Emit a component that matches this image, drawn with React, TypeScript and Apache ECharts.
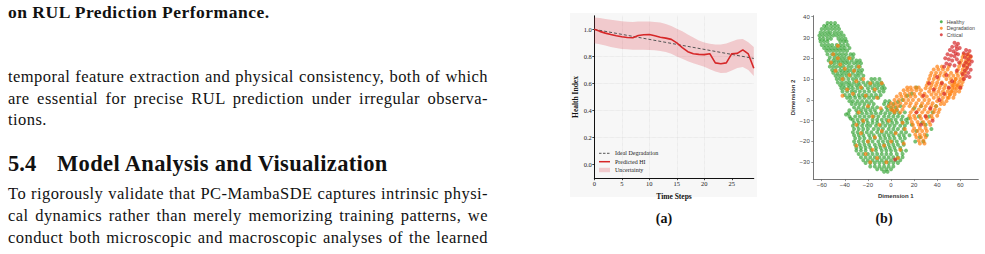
import React, { useEffect, useRef } from "react";
import * as echarts from "echarts";

// ---------- (a) Health index data ----------
const timeSteps = [0, 1, 2, 3, 4, 5, 6, 7, 8, 9, 10, 11, 12, 13, 14, 15, 16, 17, 18, 19, 20, 21, 22, 23, 24, 25, 26, 27, 28, 29];
const predictedHI = [1.0, 0.985, 0.972, 0.962, 0.953, 0.945, 0.94, 0.938, 0.955, 0.96, 0.962, 0.952, 0.942, 0.935, 0.926, 0.9, 0.865, 0.835, 0.82, 0.815, 0.813, 0.82, 0.752, 0.746, 0.752, 0.82, 0.822, 0.848, 0.818, 0.712];
const upperBound = [1.088, 1.083, 1.077, 1.071, 1.065, 1.06, 1.056, 1.055, 1.057, 1.058, 1.058, 1.055, 1.05, 1.04, 1.025, 1.005, 0.985, 0.962, 0.94, 0.918, 0.902, 0.893, 0.888, 0.888, 0.895, 0.91, 0.925, 0.928, 0.905, 0.87];
const lowerBound = [0.898, 0.89, 0.88, 0.87, 0.862, 0.855, 0.852, 0.85, 0.85, 0.85, 0.848, 0.845, 0.84, 0.832, 0.82, 0.8, 0.783, 0.765, 0.75, 0.737, 0.723, 0.705, 0.688, 0.678, 0.68, 0.695, 0.715, 0.722, 0.7, 0.655];
const idealX = [0, 29];
const idealY = [1.0, 0.785];
const hiTicksX = [0, 5, 10, 15, 20, 25];
const hiTicksY = [0, 0.2, 0.4, 0.6, 0.8, 1.0];

// ---------- (b) t-SNE data ----------
const dimTicksX = [-60, -40, -20, 0, 20, 40, 60];
const dimTicksY = [-30, -20, -10, 0, 10, 20, 30, 40];

const healthyRows: [number, number[]][] = [
  [37.0, [-55, -52, -48.5]],
  [35.6, [-58, -55.5, -52, -49, -46]],
  [34.1, [-60, -57, -54, -51, -48, -45]],
  [32.4, [-61, -58, -55, -52.5, -49, -46, -43]],
  [31.0, [-62, -59, -56, -53, -50, -47, -44, -41]],
  [29.4, [-61.5, -58.5, -55, -52, -45.5, -42.5, -39.5]],
  [28.1, [-61, -58, -55, -44, -41, -38.5]],
  [26.4, [-60, -57, -54, -51, -47, -44, -41, -37.5]],
  [25.0, [-58, -55, -52, -49, -46, -43, -40, -36]],
  [23.6, [-56, -53, -50, -47, -44, -41, -38]],
  [22.0, [-55, -51, -48, -45, -42, -39, -35, -32.5]],
  [20.4, [-53, -49, -46, -43, -40, -36.5, -33]],
  [19.0, [-54, -50, -47, -44, -41, -38, -34, -30, -27]],
  [17.6, [-52, -49, -45.5, -42, -39, -36, -32, -29, -26]],
  [16.0, [-53, -50, -47, -44, -41, -37, -34, -30, -27]],
  [14.4, [-51, -48, -44, -41, -38, -35, -31.5, -28, -25]],
  [13.0, [-50, -46.5, -43, -40, -37, -33, -29, -26]],
  [11.6, [-48, -45, -42, -38.5, -35, -31, -28, -24]],
  [10.0, [-47, -44, -41, -37, -33, -30, -26, -17, -14, -10]],
  [8.4, [-46, -42.5, -39, -36, -32, -28, -24, -20, -16, -12, -8.5]],
  [7.0, [-44, -41, -37, -34, -30, -27, -22, -18, -14, -10.5, -7]],
  [5.6, [-43, -40, -36.5, -33, -29, -25, -20, -16, -12, -8, -5.5]],
  [4.0, [-42, -38, -34, -31, -27, -23, -19, -14.5, -10, -6.5]],
  [2.4, [-40, -36, -32, -28, -24.5, -21, -17, -13, -9]],
  [1.0, [-38, -35, -31, -27, -23, -19, -15, -11]],
  [-0.6, [-36, -33, -29, -25, -21, -17, -5, -1.5]],
  [-2.0, [-34, -30.5, -27, -23, -19, -15, -6, -2, 2]],
  [-3.6, [-32, -28, -24, -20, -16, -12, -4, 0, 4]],
  [-5.0, [-36, -30, -26, -22, -18, -14, -8, -3, 1, 5]],
  [-6.4, [-37, -29, -25, -21, -17, -13, -9, -5, -1, 3, 7]],
  [-8.0, [-36, -31, -27, -23, -19, -15, -11, -6, -2, 2, 6, 10]],
  [-9.6, [-33, -29, -25, -21, -16, -12, -8, -4, 0, 4, 9, 13]],
  [-11.0, [-32, -28, -24, -20, -16, -12, -7, -3, 1, 5, 10, 14]],
  [-12.4, [-33, -29, -25, -21, -18, -13, -9, -5, -1, 3, 8, 12]],
  [-14.0, [-32, -28, -24, -20, -15, -11, -7, -2, 2, 6, 11]],
  [-15.6, [-33, -29, -25, -21, -17, -12, -8, -4, 0, 4, 9, 13]],
  [-17.0, [-32, -28, -24, -19, -15, -10, -6, -2, 2, 7, 11]],
  [-18.4, [-31, -27, -23, -18, -14, -9, -5, -1, 3, 8, 12]],
  [-20.0, [-32, -28, -24, -20, -16, -11, -7, -3, 1, 5, 10]],
  [-21.6, [-31, -27, -23, -19, -14, -10, -6, -2, 2, 6, 11]],
  [-23.0, [-30, -26, -22, -18, -13, -9, -5, -1, 3, 8]],
  [-24.4, [-30, -26, -22, -17, -13, -8, -4, 0, 4, 9, 13]],
  [-26.0, [-28, -24, -20, -16, -12, -8, -4, 0, 5, 10]],
  [-27.6, [-26, -22, -18, -14, -10, -6, -2, 2, 6, 10]],
  [-29.0, [-24, -20, -16, -12, -8, -4, 0, 4, 8]],
  [-30.4, [-22, -18, -14, -10, -6, -2, 2, 6]],
  [-32.0, [-18, -14, -10, -6, -2, 2]],
  [-33.4, [-12, -8, -4, 0]],
  [-34.6, [-6, -3]],
];
const healthyExtra: [number, number][] = [
  [8, -3], [12, -6], [15, -9], [18, -12], [22, -15], [25, -18], [28, -20], [20, -4], [24, -8], [10, 0],
  [14, 2], [26, -3], [30, -12], [33, -8], [35, -14], [18, 3], [22, 6], [27, -11], [16, -17], [31, -17],
  [21, -20], [36, -6], [-39, -7], [-35, -9], [6, -1], [39, -3],
];

const degradationRows: [number, number[]][] = [
  [6.0, [14, 17, 21, 24]],
  [4.6, [11, 14.5, 18, 22, 26]],
  [3.0, [8, 12, 16, 20, 25, 29]],
  [1.6, [5, 9, 13, 17, 21, 27, 31]],
  [0.0, [3, 7, 11, 15, 19, 24, 29, 33]],
  [-1.6, [0, 4, 8, 13, 17, 22, 27, 32, 36]],
  [-3.0, [-2, 2, 6, 11, 16, 21, 26, 30, 35, 39]],
  [-4.6, [0, 5, 10, 19, 24, 29, 34, 38, 42]],
  [-6.0, [3, 8, 17, 22, 27, 32, 37, 41]],
  [-7.6, [16, 20, 25, 30, 35, 40]],
  [-9.0, [17, 21, 26, 31, 36]],
  [-10.6, [18, 23, 28, 33]],
  [-12.0, [19, 24, 29, 34]],
  [-13.6, [20, 25, 30]],
  [-15.0, [19, 23, 27, 31]],
  [-16.6, [21, 25, 29]],
  [-18.0, [22, 26, 30]],
  [-19.6, [24, 28]],
  [-21.0, [25, 29]],
  [16.0, [40, 44, 50]],
  [14.6, [37, 41, 45, 49]],
  [13.0, [35, 39, 43, 47, 52]],
  [11.6, [34, 38, 42, 46, 50, 54]],
  [10.0, [33, 37, 41, 48, 52, 56]],
  [8.4, [32, 36, 40, 44, 51, 55]],
  [7.0, [31, 35, 39, 43, 47, 53, 57]],
  [5.6, [30, 34, 38, 42, 46, 50, 55]],
  [4.0, [33, 37, 41, 45, 49, 53]],
  [2.6, [35, 39, 43, 47, 51]],
  [1.0, [37, 41, 45, 49]],
  [-0.6, [40, 44, 48]],
  [-2.0, [43, 46]],
  [22.0, [63, 67]],
  [20.6, [62, 66, 69]],
  [19.0, [61, 65, 68]],
  [17.6, [60, 64, 67]],
  [16.2, [59, 63, 66]],
  [14.6, [58, 62, 65]],
  [13.0, [57, 61, 64]],
  [11.6, [58, 62]],
  [10.0, [56, 60, 63]],
  [8.6, [55, 59, 62]],
  [7.0, [54, 58, 61]],
  [5.6, [53, 57, 60]],
  [4.0, [52, 56, 59]],
  [2.6, [51, 55]],
  [1.0, [50, 54]],
];
const degradationExtra: [number, number][] = [
  [-50, 22], [-46, 20], [-44, 17], [-48, 14], [-40, 15], [-36, 12], [-42, 10], [-30, 9], [-38, 5], [-33, 3],
  [-26, 6], [-22, 2], [-18, 8], [-14, 5], [-12, 1], [-20, -3], [-28, -6], [-24, -10], [-16, -8], [-10, -12],
  [-26, -16], [-20, -20], [-14, -18], [-6, -22], [-22, -26], [-12, -28], [-4, -30], [0, -20], [4, -16], [8, -24],
  [11, -21], [6, -28], [-8, -15], [-30, -22], [-2, -10], [2, -5], [-36, 20], [-46, 26], [-32, 14], [-42, 2],
  [-18, -30], [-9, -4], [10, -11], [-30, -12], [-52, 18], [-28, 16], [-24, 10], [-8, 8], [12, -14], [-16, -24],
];

const criticalPoints: [number, number][] = [
  [55, 27.5], [58, 27], [56.5, 25.8], [53, 25.5], [57, 24.4], [59.5, 25], [51, 24], [54, 23.4], [56, 22.4], [49, 22],
  [52, 21.4], [55, 21], [58, 22], [47, 20], [50, 19.5], [53, 19], [57, 19.5], [48, 17.5], [51, 17], [55, 16.5],
  [59, 18], [46, 16],
  [65, 24], [68, 23.5], [63, 22.5], [66, 22], [69, 21], [64, 20.5], [67, 19.5], [70, 18.5], [65, 18], [68, 17],
  [63, 16.5], [66, 15.5], [69, 14.5], [64, 14], [67, 13], [62, 12.5], [65, 11.5], [68, 11], [63, 10],
  [40, 11], [44, 8], [37, 5], [46, 3], [42, 0], [50, 6], [34, -4], [30, -8], [26, -12], [22, -6],
  [36, -10], [48, 12], [53, 9], [57, 14], [60, 6], [28, 2], [3.5, -28.7], [33, 8],
];

// ---------- page text ----------
type Line = { text: string; base: number; size: number; bold?: boolean; justify?: boolean; left?: number; spacing?: number };
const pageLines: Line[] = [
  { text: "on RUL Prediction Performance.", base: 18.3, size: 17.5, bold: true, spacing: 0.5 },
  { text: "temporal feature extraction and physical consistency, both of which", base: 82.7, size: 16.5, justify: true, spacing: 0.45 },
  { text: "are essential for precise RUL prediction under irregular observa-", base: 104.4, size: 16.5, justify: true, spacing: 0.45 },
  { text: "tions.", base: 126.1, size: 16.5, spacing: 0.45 },
  { text: "5.4", base: 172.3, size: 22.5, bold: true },
  { text: "Model Analysis and Visualization", base: 172.3, size: 22.5, bold: true, left: 57, spacing: 0.35 },
  { text: "To rigorously validate that PC-MambaSDE captures intrinsic physi-", base: 200.0, size: 16.5, justify: true, spacing: 0.45 },
  { text: "cal dynamics rather than merely memorizing training patterns, we", base: 221.7, size: 16.5, justify: true, spacing: 0.45 },
  { text: "conduct both microscopic and macroscopic analyses of the learned", base: 243.4, size: 16.5, justify: true, spacing: 0.45 },
];

const flatten = (rows: [number, number[]][], extra: [number, number][]) => {
  const out: [number, number][] = [];
  rows.forEach(([y, xs]) => xs.forEach((x) => out.push([x, y])));
  extra.forEach((p) => out.push(p));
  return out;
};

const minusFmt = (v: number) => (v < 0 ? "\u2212" + Math.abs(v) : String(v));

export default function App() {
  const ref = useRef<HTMLDivElement>(null);
  useEffect(() => {
    if (!ref.current) return;
    const chart = echarts.init(ref.current, null, { renderer: "svg", width: 985, height: 254 });
    const serif = "Liberation Serif";
    const sans = "Liberation Sans";
    const bandData = timeSteps.map((t, i) => [t, lowerBound[i], upperBound[i]]);
    const pred = timeSteps.map((t, i) => [t, predictedHI[i]]);
    const ideal = idealX.map((x, i) => [x, idealY[i]]);
    const bandColor = "rgba(220,60,70,0.24)";

    const option: any = {
      animation: false,
      grid: [
        { left: 594.3, top: 15.8, width: 159.5, height: 162.4 },
        { left: 813.3, top: 15.7, width: 165, height: 163.4 },
      ],
      xAxis: [
        {
          gridIndex: 0, type: "value", min: 0, max: 29, interval: 5,
          name: "Time Steps", nameLocation: "middle", nameGap: 8,
          nameTextStyle: { fontFamily: serif, fontWeight: "bold", fontSize: 7.5, color: "#111" },
          axisLine: { onZero: false, lineStyle: { color: "#111", width: 1 } },
          axisTick: { show: true, length: 2, customValues: hiTicksX, lineStyle: { color: "#111", width: 0.8 } },
          axisLabel: { customValues: hiTicksX, fontFamily: serif, fontSize: 6.5, color: "#222", margin: 2 },
          splitLine: { show: true, showMinLine: false, showMaxLine: false, lineStyle: { color: "#d8d8d8", type: "dotted", width: 0.6 } },
        },
        {
          gridIndex: 1, type: "value", min: -67.3, max: 75.6,
          name: "Dimension 1", nameLocation: "middle", nameGap: 8,
          nameTextStyle: { fontFamily: sans, fontWeight: "bold", fontSize: 6, color: "#333" },
          axisLine: { onZero: false, lineStyle: { color: "#666", width: 0.9 } },
          axisTick: { show: true, length: 2, customValues: dimTicksX, lineStyle: { color: "#666", width: 0.7 } },
          axisLabel: { customValues: dimTicksX, formatter: minusFmt, fontFamily: sans, fontSize: 6, color: "#444", margin: 3 },
          splitLine: { show: false },
        },
      ],
      yAxis: [
        {
          gridIndex: 0, type: "value", min: -0.1, max: 1.1,
          name: "Health Index", nameLocation: "middle", nameGap: 10,
          nameTextStyle: { fontFamily: serif, fontWeight: "bold", fontSize: 7.5, color: "#111" },
          axisLine: { show: true, onZero: false, lineStyle: { color: "#111", width: 1 } },
          axisTick: { show: true, length: 2, customValues: hiTicksY, lineStyle: { color: "#111", width: 0.8 } },
          axisLabel: { customValues: hiTicksY, formatter: (v: number) => v.toFixed(1), fontFamily: serif, fontSize: 6.5, color: "#222", margin: 2.5 },
          splitLine: { show: true, showMinLine: false, showMaxLine: false, lineStyle: { color: "#d8d8d8", type: "dotted", width: 0.6 } },
        },
        {
          gridIndex: 1, type: "value", min: -38.1, max: 40.5,
          name: "Dimension 2", nameLocation: "middle", nameGap: 14,
          nameTextStyle: { fontFamily: sans, fontWeight: "bold", fontSize: 6, color: "#333" },
          axisLine: { show: true, onZero: false, lineStyle: { color: "#666", width: 0.9 } },
          axisTick: { show: true, length: 2, customValues: dimTicksY, lineStyle: { color: "#666", width: 0.7 } },
          axisLabel: { customValues: dimTicksY, formatter: minusFmt, fontFamily: sans, fontSize: 6, color: "#444", margin: 3.5 },
          splitLine: { show: false },
        },
      ],
      series: [
        {
          name: "Uncertainty", type: "custom", xAxisIndex: 0, yAxisIndex: 0, data: bandData,
          encode: { x: 0, y: [1, 2] }, silent: true,
          renderItem: (params: any, api: any) => {
            if (params.dataIndex !== 0) return null;
            const pts: number[][] = [];
            for (let i = 0; i < bandData.length; i++) pts.push(api.coord([bandData[i][0], bandData[i][2]]));
            for (let i = bandData.length - 1; i >= 0; i--) pts.push(api.coord([bandData[i][0], bandData[i][1]]));
            return { type: "polygon", shape: { points: pts }, style: { fill: bandColor } };
          },
        },
        {
          name: "Ideal Degradation", type: "line", xAxisIndex: 0, yAxisIndex: 0, data: ideal,
          symbol: "none", lineStyle: { color: "#555", width: 1, type: [3, 2] },
        },
        {
          name: "Predicted HI", type: "line", xAxisIndex: 0, yAxisIndex: 0, data: pred,
          symbol: "none", lineStyle: { color: "#d62728", width: 1.6 },
        },
        {
          name: "Healthy", type: "scatter", xAxisIndex: 1, yAxisIndex: 1, data: flatten(healthyRows, healthyExtra),
          symbolSize: 4, itemStyle: { color: "#2ca02c", opacity: 0.65 },
        },
        {
          name: "Degradation", type: "scatter", xAxisIndex: 1, yAxisIndex: 1, data: flatten(degradationRows, degradationExtra),
          symbolSize: 4, itemStyle: { color: "#ff7f0e", opacity: 0.7 },
        },
        {
          name: "Critical", type: "scatter", xAxisIndex: 1, yAxisIndex: 1, data: criticalPoints,
          symbolSize: 4, itemStyle: { color: "#d62728", opacity: 0.7 },
        },
      ],
      graphic: [
        { type: "rect", z: -10, silent: true, shape: { x: 570, y: 13, width: 187, height: 184 }, style: { fill: "#f7f7f7" } },
        // legend (a)
        { type: "line", shape: { x1: 599, y1: 153.3, x2: 610, y2: 153.3 }, style: { stroke: "#555", lineWidth: 1, lineDash: [2.5, 1.5] } },
        { type: "line", shape: { x1: 599, y1: 161.7, x2: 610, y2: 161.7 }, style: { stroke: "#d62728", lineWidth: 1.5 } },
        { type: "rect", shape: { x: 599, y: 167.8, width: 11, height: 4.4 }, style: { fill: bandColor } },
        { type: "text", x: 615, y: 153.3, style: { text: "Ideal Degradation", fontFamily: serif, fontSize: 6, fill: "#222", verticalAlign: "middle" } },
        { type: "text", x: 615, y: 161.7, style: { text: "Predicted HI", fontFamily: serif, fontSize: 6, fill: "#222", verticalAlign: "middle" } },
        { type: "text", x: 615, y: 170, style: { text: "Uncertainty", fontFamily: serif, fontSize: 6, fill: "#222", verticalAlign: "middle" } },
        // legend (b)
        { type: "circle", shape: { cx: 941.3, cy: 21.7, r: 1.5 }, style: { fill: "#2ca02c", opacity: 0.8 } },
        { type: "circle", shape: { cx: 941.3, cy: 28.3, r: 1.5 }, style: { fill: "#ff7f0e", opacity: 0.8 } },
        { type: "circle", shape: { cx: 941.3, cy: 34.7, r: 1.5 }, style: { fill: "#d62728", opacity: 0.8 } },
        { type: "text", x: 946.7, y: 21.7, style: { text: "Healthy", fontFamily: sans, fontSize: 5.2, fill: "#444", verticalAlign: "middle" } },
        { type: "text", x: 946.7, y: 28.3, style: { text: "Degradation", fontFamily: sans, fontSize: 5.2, fill: "#444", verticalAlign: "middle" } },
        { type: "text", x: 946.7, y: 34.7, style: { text: "Critical", fontFamily: sans, fontSize: 5.2, fill: "#444", verticalAlign: "middle" } },
        // captions
        { type: "text", x: 664, y: 218.5, style: { text: "(a)", fontFamily: serif, fontWeight: "bold", fontSize: 14, fill: "#111", align: "center", verticalAlign: "middle" } },
        { type: "text", x: 884, y: 218.5, style: { text: "(b)", fontFamily: serif, fontWeight: "bold", fontSize: 14, fill: "#111", align: "center", verticalAlign: "middle" } },
      ],
    };
    chart.setOption(option);
    return () => chart.dispose();
  }, []);

  return (
    <div style={{ position: "absolute", left: 0, top: 0, width: 985, height: 254, overflow: "hidden", background: "#fff" }}>
      <div ref={ref} style={{ position: "absolute", left: 0, top: 0, width: 985, height: 254 }} />
      {pageLines.map((l, i) => (
        <div
          key={i}
          style={{
            position: "absolute",
            left: l.left ?? 8,
            top: l.base - 0.8375 * l.size,
            width: l.justify ? 480 : undefined,
            fontFamily: '"Liberation Serif", "Times New Roman", serif',
            fontSize: l.size,
            lineHeight: `${l.size}px`,
            fontWeight: l.bold ? "bold" : "normal",
            letterSpacing: l.spacing ? `${l.spacing}px` : undefined,
            color: "#111",
            textAlign: l.justify ? "justify" : "left",
            textAlignLast: l.justify ? "justify" : undefined,
            whiteSpace: l.justify ? "normal" : "nowrap",
          } as React.CSSProperties}
        >
          {l.text}
        </div>
      ))}
    </div>
  );
}
